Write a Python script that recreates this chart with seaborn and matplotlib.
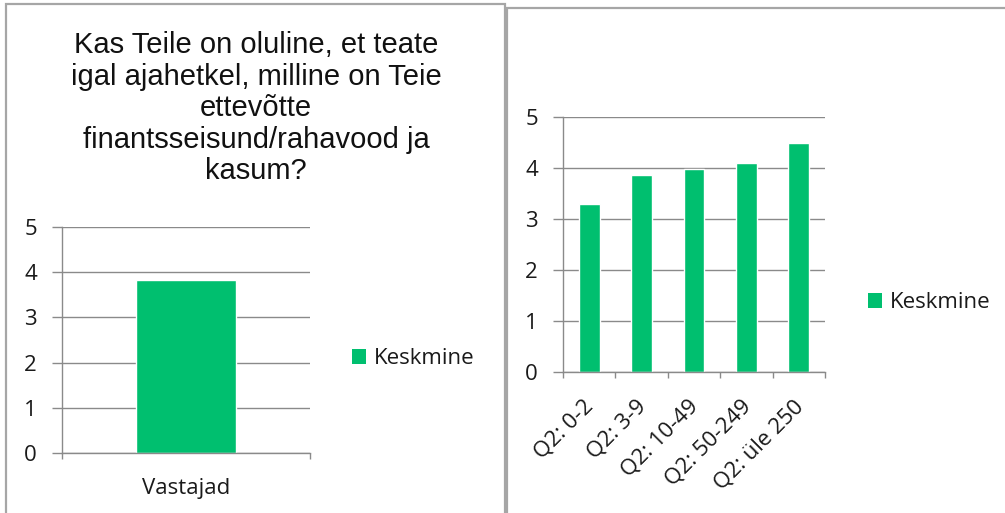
import matplotlib
matplotlib.use("Agg")
import matplotlib.pyplot as plt
import matplotlib.transforms as mtransforms
import seaborn as sns
from matplotlib.patches import Rectangle, Patch

sns.set_style("white")
plt.rcParams['font.family'] = ['Open Sans', 'DejaVu Sans']

# ---- data ----
left_categories = ["Vastajad"]
left_values = [3.82]
right_categories = ["Q2: 0-2", "Q2: 3-9", "Q2: 10-49", "Q2: 50-249", "Q2: üle 250"]
right_values = [3.30, 3.86, 3.99, 4.10, 4.49]
series_name = "Keskmine"
title_text = ("Kas Teile on oluline, et teate\nigal ajahetkel, milline on Teie\n"
              "ettevõtte\nfinantsseisund/rahavood ja\nkasum?")
yticks = [0, 1, 2, 3, 4, 5]

GREEN = "#00BF6F"
GRID = "#8a8a8a"
TXT = "#1a1a1a"
FS = 16
W, H = 1005, 513

fig = plt.figure(figsize=(W / 100, H / 100), dpi=100)

def px_axes(x0, x1, ytop, ybot):
    return fig.add_axes([x0 / W, (H - ybot) / H, (x1 - x0) / W, (ybot - ytop) / H])

# panel borders
fig.patches.append(Rectangle((6 / W, -0.05), (505 - 6) / W, (H - 4) / H + 0.05,
                             transform=fig.transFigure, fill=False,
                             edgecolor="#a6a6a6", linewidth=1.6))
fig.patches.append(Rectangle((507 / W, -0.05), 0.6, (H - 8) / H + 0.05,
                             transform=fig.transFigure, fill=False,
                             edgecolor="#a6a6a6", linewidth=1.6))

def style_axes(ax, n):
    ax.set_ylim(0, 5)
    ax.set_xlim(-0.5, n - 0.5)
    ax.set_yticks(yticks)
    ax.yaxis.grid(True, color=GRID, linewidth=1)
    ax.set_axisbelow(True)
    for s in ["top", "right"]:
        ax.spines[s].set_visible(False)
    for s in ["left", "bottom"]:
        ax.spines[s].set_color(GRID)
        ax.spines[s].set_linewidth(1)
    ax.tick_params(axis="y", which="major", length=7, color=GRID, width=1,
                   labelsize=FS, labelcolor=TXT, pad=11, left=True)
    ax.set_xticks([i - 0.5 for i in range(n + 1)], minor=True)
    ax.tick_params(axis="x", which="minor", length=4.5, color=GRID, width=1, bottom=True)
    ax.tick_params(axis="x", which="major", length=0, labelsize=FS, labelcolor=TXT)
    ax.set_xlabel("")
    ax.set_ylabel("")

# left chart
axL = px_axes(62, 310, 227, 453)
sns.barplot(x=left_categories, y=left_values, color=GREEN, width=0.4, ax=axL,
            saturation=1)
style_axes(axL, len(left_categories))
axL.tick_params(axis="x", which="major", pad=18)

fig.text(256 / W, 1 - 31 / H, title_text, ha="center", va="top", fontsize=21,
         family=["Liberation Sans"], linespacing=1.16, color="#111111")

# right chart
axR = px_axes(563, 825, 117, 372)
sns.barplot(x=right_categories, y=right_values, color=GREEN, width=0.4, ax=axR,
            saturation=1)
style_axes(axR, len(right_categories))
axR.tick_params(axis="x", which="major", pad=10)
shift = mtransforms.ScaledTranslation(-6 / 100, -10 / 100, fig.dpi_scale_trans)
for lbl in axR.get_xticklabels():
    lbl.set_rotation(45)
    lbl.set_ha("right")
    lbl.set_va("top")
    lbl.set_rotation_mode("anchor")
    lbl.set_transform(lbl.get_transform() + shift)

# legends
handle = [Patch(facecolor=GREEN, edgecolor="none", label=series_name)]
for (lx, ly) in [(352, 359), (868, 303)]:
    fig.legend(handles=handle, loc="center left",
               bbox_to_anchor=(lx / W, 1 - ly / H), frameon=False,
               fontsize=FS, labelcolor=TXT, handlelength=0.62, handleheight=0.62,
               handletextpad=0.35, borderpad=0, borderaxespad=0)

fig.savefig("out.png", dpi=100)
